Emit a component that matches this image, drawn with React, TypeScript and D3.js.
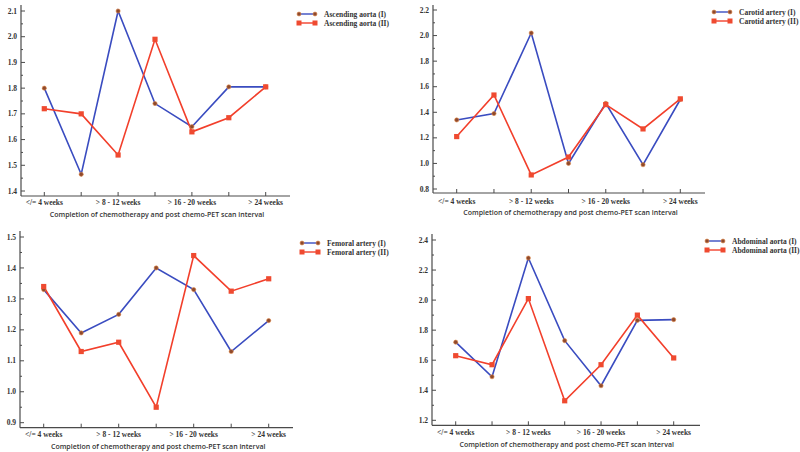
import React from "react";
import * as d3 from "d3";

const categories = [
  "</= 4 weeks",
  "> 4 - 8 weeks",
  "> 8 - 12 weeks",
  "> 12 - 16 weeks",
  "> 16 - 20 weeks",
  "> 20 - 24 weeks",
  "> 24 weeks",
];
const xTitle = "Completion of chemotherapy and post chemo-PET scan interval";

const ascendingI = [1.8, 1.465, 2.1, 1.74, 1.65, 1.805, 1.805];
const ascendingII = [1.72, 1.7, 1.54, 1.99, 1.63, 1.685, 1.805];
const carotidI = [1.34, 1.39, 2.02, 1.0, 1.47, 0.99, 1.5];
const carotidII = [1.21, 1.535, 0.91, 1.05, 1.46, 1.27, 1.505];
const femoralI = [1.33, 1.19, 1.25, 1.4, 1.33, 1.13, 1.23];
const femoralII = [1.34, 1.13, 1.16, 0.95, 1.44, 1.325, 1.365];
const abdominalI = [1.72, 1.49, 2.28, 1.73, 1.43, 1.865, 1.87];
const abdominalII = [1.63, 1.57, 2.01, 1.33, 1.57, 1.9, 1.615];

const ascendingTicks = [1.4, 1.5, 1.6, 1.7, 1.8, 1.9, 2.0, 2.1];
const carotidTicks = [0.8, 1.0, 1.2, 1.4, 1.6, 1.8, 2.0, 2.2];
const femoralTicks = [0.9, 1.0, 1.1, 1.2, 1.3, 1.4, 1.5];
const abdominalTicks = [1.2, 1.4, 1.6, 1.8, 2.0, 2.2, 2.4];

const BLUE = "#3a4cc0";
const RED = "#f23f2b";
const DOT = "#8f4a2c";
const DOT_STROKE = "#e08a4a";
const SQ = "#ef4a30";
const AXIS = "#4a4a4a";
const SERIF = "'Liberation Serif', 'DejaVu Serif', serif";
const SANS = "'Open Sans', 'Noto Sans', sans-serif";

type PanelProps = {
  name: string;
  s1: number[];
  s2: number[];
  ticks: number[];
  decimals: number;
  axisX: number;
  axisTop: number;
  axisBottom: number;
  axisRight: number;
  cat0: number;
  cat6: number;
  tickLo: number;
  tickHi: number;
  yLo: number;
  yHi: number;
  legX: number;
  legY: number;
  tickLabelY: number;
  titleY: number;
};

function Panel(p: PanelProps) {
  const x = d3.scalePoint<string>().domain(categories).range([p.cat0, p.cat6]);
  const y = d3
    .scaleLinear()
    .domain([p.tickLo, p.tickHi])
    .range([p.yLo, p.yHi]);
  const step = p.ticks[1] - p.ticks[0];
  const minor = p.ticks.slice(0, -1).map((t) => t + step / 2);
  const line = d3
    .line<number>()
    .x((_, i) => x(categories[i]) as number)
    .y((d) => y(d));
  const fmt = d3.format(`.${p.decimals}f`);
  const titleX = (p.cat0 + p.cat6) / 2 + 2;
  return (
    <g>
      {/* axes */}
      <line x1={p.axisX} x2={p.axisX} y1={p.axisTop} y2={p.axisBottom} stroke={AXIS} strokeWidth={1.2} />
      <line x1={p.axisX} x2={p.axisRight} y1={p.axisBottom} y2={p.axisBottom} stroke={AXIS} strokeWidth={1.2} />
      {p.ticks.map((t) => (
        <g key={"t" + t}>
          <line x1={p.axisX} x2={p.axisX + 4} y1={y(t)} y2={y(t)} stroke={AXIS} strokeWidth={1} />
          <text
            x={p.axisX - 4}
            y={y(t)}
            dy="0.35em"
            textAnchor="end"
            fontFamily={SERIF}
            fontWeight="bold"
            fontSize={7.5}
            fill="#333"
          >
            {fmt(t)}
          </text>
        </g>
      ))}
      {minor.map((t) => (
        <line key={"m" + t} x1={p.axisX} x2={p.axisX + 2} y1={y(t)} y2={y(t)} stroke={AXIS} strokeWidth={1} />
      ))}
      {categories.map((c, i) => (
        <g key={c}>
          <line
            x1={x(c)}
            x2={x(c)}
            y1={p.axisBottom}
            y2={p.axisBottom - 4}
            stroke={AXIS}
            strokeWidth={1}
          />
          {i % 2 === 0 && (
            <text
              x={x(c)}
              y={p.tickLabelY}
              textAnchor="middle"
              fontFamily={SERIF}
              fontWeight="bold"
              fontSize={7.5}
              fill="#333"
            >
              {c}
            </text>
          )}
        </g>
      ))}
      <text
        x={titleX}
        y={p.titleY}
        textAnchor="middle"
        fontFamily={SANS}
        fontWeight={600}
        fontSize={7}
        fill="#333"
      >
        {xTitle}
      </text>
      {/* series */}
      <path d={line(p.s1) || ""} fill="none" stroke={BLUE} strokeWidth={1.6} />
      <path d={line(p.s2) || ""} fill="none" stroke={RED} strokeWidth={1.6} />
      {p.s1.map((v, i) => (
        <circle key={"c" + i} cx={x(categories[i])} cy={y(v)} r={2.1} fill={DOT} stroke={DOT_STROKE} strokeWidth={0.6} />
      ))}
      {p.s2.map((v, i) => (
        <rect
          key={"r" + i}
          x={(x(categories[i]) as number) - 2.6}
          y={y(v) - 2.6}
          width={5.2}
          height={5.2}
          fill={SQ}
        />
      ))}
      {/* legend */}
      <g transform={`translate(${p.legX},${p.legY})`}>
        <line x1={0} x2={16} y1={0} y2={0} stroke={BLUE} strokeWidth={1.4} />
        <circle cx={0} cy={0} r={2} fill={DOT} stroke={DOT_STROKE} strokeWidth={0.6} />
        <circle cx={16} cy={0} r={2} fill={DOT} stroke={DOT_STROKE} strokeWidth={0.6} />
        <text x={25} y={0} dy="0.35em" fontFamily={SERIF} fontWeight="bold" fontSize={7.5} fill="#333">
          {p.name + " (I)"}
        </text>
        <line x1={0} x2={16} y1={9} y2={9} stroke={RED} strokeWidth={1.4} />
        <rect x={-2.5} y={6.5} width={5} height={5} fill={SQ} />
        <rect x={13.5} y={6.5} width={5} height={5} fill={SQ} />
        <text x={25} y={9} dy="0.35em" fontFamily={SERIF} fontWeight="bold" fontSize={7.5} fill="#333">
          {p.name + " (II)"}
        </text>
      </g>
    </g>
  );
}

export default function App() {
  return (
    <svg
      width={800}
      height={452}
      viewBox="0 0 800 452"
      style={{ position: "absolute", left: 0, top: 0, background: "#fff" }}
    >
      <rect width={800} height={452} fill="#fff" />
      <Panel
        name="Ascending aorta"
        s1={ascendingI}
        s2={ascendingII}
        ticks={ascendingTicks}
        decimals={1}
        axisX={21}
        axisTop={5}
        axisBottom={196}
        axisRight={290}
        cat0={44.3}
        cat6={265.7}
        tickLo={1.4}
        tickHi={2.1}
        yLo={191}
        yHi={11}
        legX={299}
        legY={14}
        tickLabelY={205}
        titleY={217}
      />
      <Panel
        name="Carotid artery"
        s1={carotidI}
        s2={carotidII}
        ticks={carotidTicks}
        decimals={1}
        axisX={433}
        axisTop={5}
        axisBottom={193}
        axisRight={705}
        cat0={456.7}
        cat6={680.3}
        tickLo={0.8}
        tickHi={2.2}
        yLo={189}
        yHi={10}
        legX={714}
        legY={12}
        tickLabelY={204}
        titleY={215}
      />
      <Panel
        name="Femoral artery"
        s1={femoralI}
        s2={femoralII}
        ticks={femoralTicks}
        decimals={1}
        axisX={20}
        axisTop={231}
        axisBottom={427.7}
        axisRight={293}
        cat0={43.7}
        cat6={268.7}
        tickLo={0.9}
        tickHi={1.5}
        yLo={422.7}
        yHi={237}
        legX={302}
        legY={243}
        tickLabelY={437}
        titleY={449}
      />
      <Panel
        name="Abdominal aorta"
        s1={abdominalI}
        s2={abdominalII}
        ticks={abdominalTicks}
        decimals={1}
        axisX={432}
        axisTop={234}
        axisBottom={425.3}
        axisRight={700}
        cat0={455.7}
        cat6={673.7}
        tickLo={1.2}
        tickHi={2.4}
        yLo={420.3}
        yHi={240}
        legX={707}
        legY={241}
        tickLabelY={435}
        titleY={447}
      />
    </svg>
  );
}
